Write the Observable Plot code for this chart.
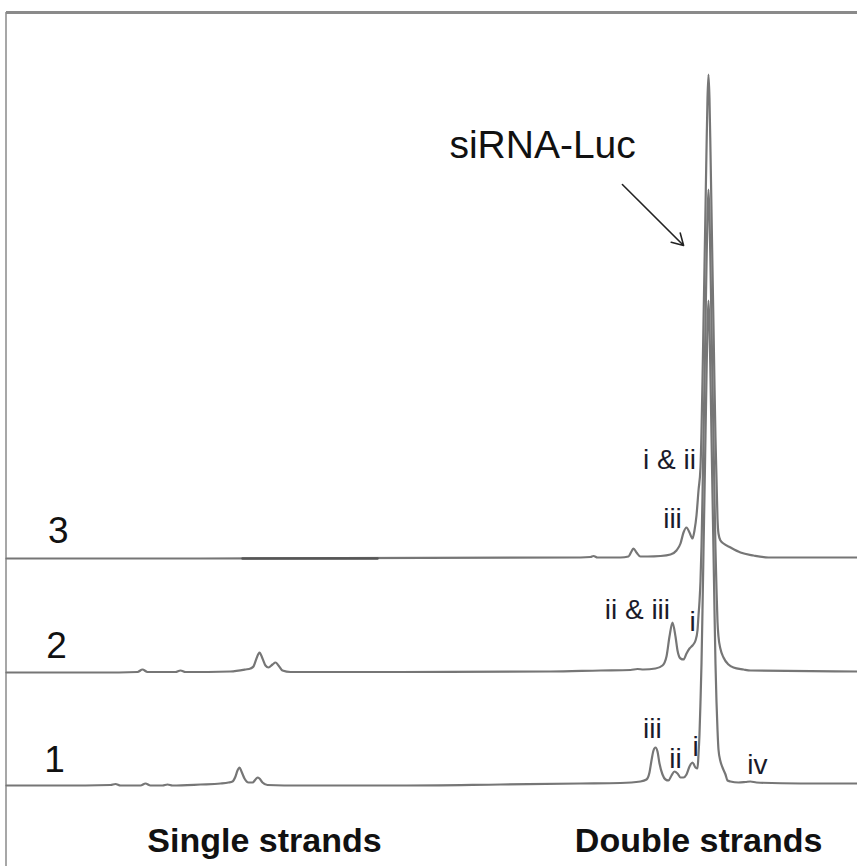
<!DOCTYPE html>
<html><head><meta charset="utf-8">
<script src="https://cdn.jsdelivr.net/npm/d3@7"></script>
<script src="https://cdn.jsdelivr.net/npm/@observablehq/plot@0.6"></script>
<style>body{margin:0;background:#fff} #chart svg{display:block;background:#fff}</style>
</head><body><div id="chart"></div>
<script>
// Retention time (min) and detector signal (mAU, relative to each trace's baseline)
const trace1Time = [0,1.8,3.467,3.633,3.8,4.467,4.633,4.8,5.2,5.367,5.533,6.467,7.133,7.4,7.533,7.633,7.7,7.767,7.833,7.933,8.067,8.2,8.3,8.367,8.433,8.533,8.7,9.8,13.133,16.467,19.133,20.467,21.133,21.333,21.433,21.5,21.567,21.633,21.7,21.767,21.867,21.967,22.067,22.167,22.267,22.367,22.467,22.567,22.667,22.767,22.867,22.967,23.033,23.067,23.1,23.133,23.167,23.2,23.233,23.267,23.3,23.333,23.367,23.4,23.433,23.467,23.5,23.533,23.567,23.6,23.633,23.667,23.7,23.733,23.8,23.867,23.967,24.033,24.133,24.4,24.633,24.8,25,26.467,28.367];
const trace1Signal = [-2,-2,-1,1,-2,-2,2,-2,-2,0,-2,0,2,4,6,16,28,34,26,12,4,4,10,14,12,4,-1,-2,-2,0,2,3,6,10,24,48,68,74,66,42,20,10,8,18,26,22,14,14,20,36,44,34,32,60,100,165,242,348,465,581,697,813,920,968,920,813,697,581,465,348,242,165,110,70,46,34,20,8,6,4,5,6,4,2,2];

const trace2Time = [0,3.133,4.367,4.533,4.7,5.633,5.8,5.967,7.467,7.967,8.133,8.233,8.333,8.433,8.533,8.633,8.733,8.867,8.967,9.067,9.2,9.467,13.133,18.133,19.8,20.8,21.033,21.233,21.633,21.867,22,22.1,22.2,22.3,22.367,22.467,22.567,22.667,22.767,22.867,22.967,23.033,23.067,23.1,23.133,23.167,23.2,23.233,23.267,23.3,23.333,23.367,23.4,23.433,23.467,23.5,23.533,23.567,23.6,23.633,23.667,23.7,23.733,23.8,23.9,24.067,24.233,24.567,24.8,28.367];
const trace2Signal = [-2,-2,-1,4,-1,-1,2,-1,0,4,6,10,26,38,26,12,8,14,18,12,2,-1,-1,0,2,3,5,4,6,12,30,70,98,70,42,26,24,36,46,52,62,82,112,140,180,250,350,465,580,695,810,915,964,915,810,695,580,465,350,245,165,100,70,45,28,14,8,4,2,0];

const trace3Time = [0,6.467,19.133,19.467,19.567,19.7,20.467,20.733,20.833,20.9,21,21.133,21.367,21.8,22.133,22.333,22.467,22.567,22.667,22.767,22.867,22.933,23,23.067,23.133,23.167,23.2,23.233,23.267,23.3,23.333,23.367,23.4,23.433,23.467,23.5,23.533,23.567,23.6,23.633,23.667,23.7,23.733,23.8,23.9,24.133,24.467,24.9,25.4,28.367];
const trace3Signal = [0,0,2,3,5,2,2,4,14,20,12,4,4,5,8,16,30,52,62,52,40,56,86,136,182,255,355,470,585,700,815,920,968,920,813,697,581,465,348,242,160,80,50,36,30,22,12,6,2,2];

const traceNames = ["1", "2", "3"];
const traceOffsets = [0, 226, 452];          // vertical stacking offsets (mAU)
const darkSegment3 = [7.867, 12.367];       // darker overdrawn stretch of trace 3 (min)

// Annotations (time, absolute signal)
const traceLabelTime = [1.6, 1.67, 1.73];
const traceLabelSignal = [49, 277, 507];
const peakLabels = ["iii", "ii", "i", "iv", "ii & iii", "i", "iii", "i & ii"];
const peakLabelTime = [21.53, 22.3, 22.97, 25.03, 21.03, 22.87, 22.2, 22.1];
const peakLabelSignal = [111, 51, 75, 39, 349, 325, 531, 649];
const regionLabels = ["Single strands", "Double strands"];
const regionLabelTime = [8.6, 23.07];
const regionLabelSignal = [-114, -114];
const productLabel = "siRNA-Luc";
const productLabelTime = 17.87, productLabelSignal = 1278;
const arrowStart = [20.53, 1200], arrowEnd = [22.57, 1078];

const xDomain = [0, 28.367];
const yDomain = [-164, 1568];
const frameTop = 1544;

const traces = [
  [trace1Time, trace1Signal],
  [trace2Time, trace2Signal],
  [trace3Time, trace3Signal]
];
const rows = traces.flatMap(([ts, ss], k) => ts.map((t, i) => ({trace: traceNames[k], time: t, value: ss[i] + traceOffsets[k]})));
const dark = rows.filter(d => d.trace === "3" && d.time >= darkSegment3[0] && d.time <= darkSegment3[1]);
const darkRows = [{time: darkSegment3[0], value: traceOffsets[2]}, ...dark, {time: darkSegment3[1], value: traceOffsets[2]}];

const font = "'Liberation Sans', Arial, sans-serif";
const chart = Plot.plot({
  width: 857, height: 866,
  marginTop: 0, marginBottom: 0, marginLeft: 6, marginRight: 0,
  x: {domain: xDomain, axis: null},
  y: {domain: yDomain, axis: null},
  marks: [
    Plot.ruleY([frameTop], {stroke: "#8a8a8a", strokeWidth: 3}),
    Plot.ruleX([xDomain[0]], {y1: frameTop, y2: yDomain[0], stroke: "#8a8a8a", strokeWidth: 1.5, dx: -0.5}),
    Plot.line(rows, {x: "time", y: "value", z: "trace", stroke: "#767676", strokeWidth: 2.2, curve: "monotone-x"}),
    Plot.line(darkRows, {x: "time", y: "value", stroke: "#555", strokeWidth: 2.4}),
    Plot.text(traceNames, {x: (d, i) => traceLabelTime[i], y: (d, i) => traceLabelSignal[i], text: d => d, fontSize: 37, fontFamily: font, fill: "#111"}),
    Plot.text(peakLabels, {x: (d, i) => peakLabelTime[i], y: (d, i) => peakLabelSignal[i], text: d => d, fontSize: 28, fontFamily: font, fill: "#1a1a2a"}),
    Plot.text(regionLabels, {x: (d, i) => regionLabelTime[i], y: (d, i) => regionLabelSignal[i], text: d => d, fontSize: 34, fontWeight: "bold", fontFamily: font, fill: "#111"}),
    Plot.text([productLabel], {x: () => productLabelTime, y: () => productLabelSignal, text: d => d, fontSize: 39, fontFamily: font, fill: "#111"}),
    Plot.arrow([0], {x1: () => arrowStart[0], y1: () => arrowStart[1], x2: () => arrowEnd[0], y2: () => arrowEnd[1], stroke: "#222", strokeWidth: 1.6, headLength: 12})
  ]
});
document.getElementById("chart").append(chart);
</script>
</body></html>
